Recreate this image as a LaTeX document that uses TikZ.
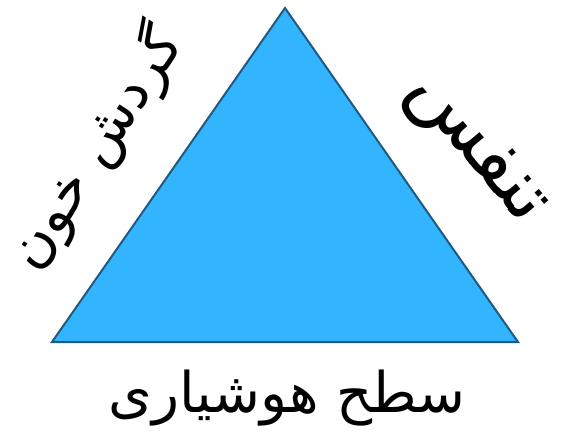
\documentclass[tikz,border=0pt]{standalone}
\usepackage{fontspec}
\TeXXeTstate=1
\newfontfamily\arabicfont[Script=Arabic]{DejaVu Sans}
\definecolor{trifill}{RGB}{51,180,255}
\definecolor{triline}{RGB}{30,90,130}
\tikzset{
  tri/.style={fill=trifill,draw=triline,line width=2pt,line join=miter},
  lbl/.style={font=\arabicfont\fontsize{56}{62}\selectfont,inner sep=0pt,text=black}
}
\begin{document}
\begin{tikzpicture}[x=1pt,y=-1pt]
\useasboundingbox (0,0) rectangle (565,444);
\coordinate (top) at (285,8);
\coordinate (bl) at (52,342);
\coordinate (br) at (518,342);
\filldraw[tri] (top) -- (bl) -- (br) -- cycle;
\node[lbl] (bottom) at (287,398) {\beginR سطح هوشیاری\endR};
\node[lbl,rotate=57] (left) at (95,148) {\beginR گردش خون\endR};
\node[lbl,rotate=-50,font=\arabicfont\fontsize{76}{82}\selectfont] (right) at (474,150) {\beginR تنفس\endR};
\end{tikzpicture}
\end{document}
